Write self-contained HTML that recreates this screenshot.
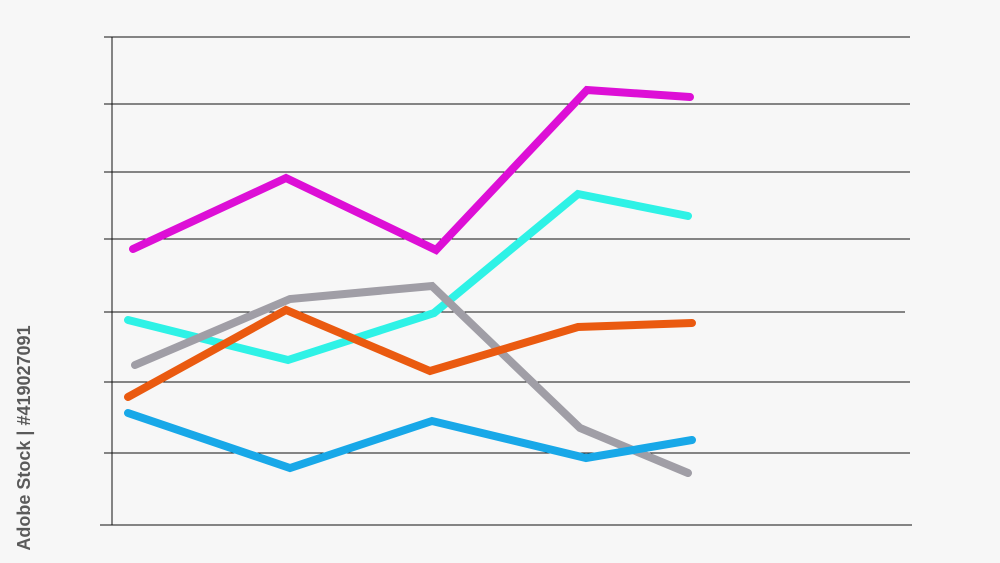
<!DOCTYPE html>
<html><head><meta charset="utf-8"><style>
html,body{margin:0;padding:0;background:#f7f7f7;}
svg{display:block}
</style></head><body>
<svg width="1000" height="563" viewBox="0 0 1000 563" xmlns="http://www.w3.org/2000/svg">
<rect width="1000" height="563" fill="#f7f7f7"/>
<g stroke="#111" stroke-width="1">
<line x1="104" y1="37" x2="910" y2="37"/>
<line x1="104" y1="104" x2="910" y2="104"/>
<line x1="104" y1="172" x2="910" y2="172"/>
<line x1="104" y1="239" x2="910" y2="239"/>
<line x1="104" y1="312" x2="905" y2="312"/>
<line x1="104" y1="382" x2="910" y2="382"/>
<line x1="104" y1="453" x2="910" y2="453"/>
<line x1="100" y1="525" x2="912" y2="525"/>
<line x1="112" y1="37" x2="112" y2="525"/>
</g>
<g fill="none" stroke-width="8" stroke-linecap="round" stroke-linejoin="miter">
<polyline stroke="#dd0fd6" points="133,249 286,178 436,250 587,90 690,97"/>
<polyline stroke="#2ef2e6" points="128,320 288,360 434,313 578,194 688,216"/>
<polyline stroke="#a09ea6" points="135,365 290,299 432,286 580,428 688,473"/>
<polyline stroke="#ea5a10" points="128,397 286,310 430,371 578,327 692,323"/>
<polyline stroke="#18a8e8" points="128,413 290,468 432,421 586,458 692,440"/>
</g>
<text x="0" y="0" transform="translate(30,438) rotate(-90)" text-anchor="middle" font-family="Liberation Sans, sans-serif" font-size="18" font-weight="bold" fill="#5a5a5a">Adobe Stock | #419027091</text>
</svg>
</body></html>
